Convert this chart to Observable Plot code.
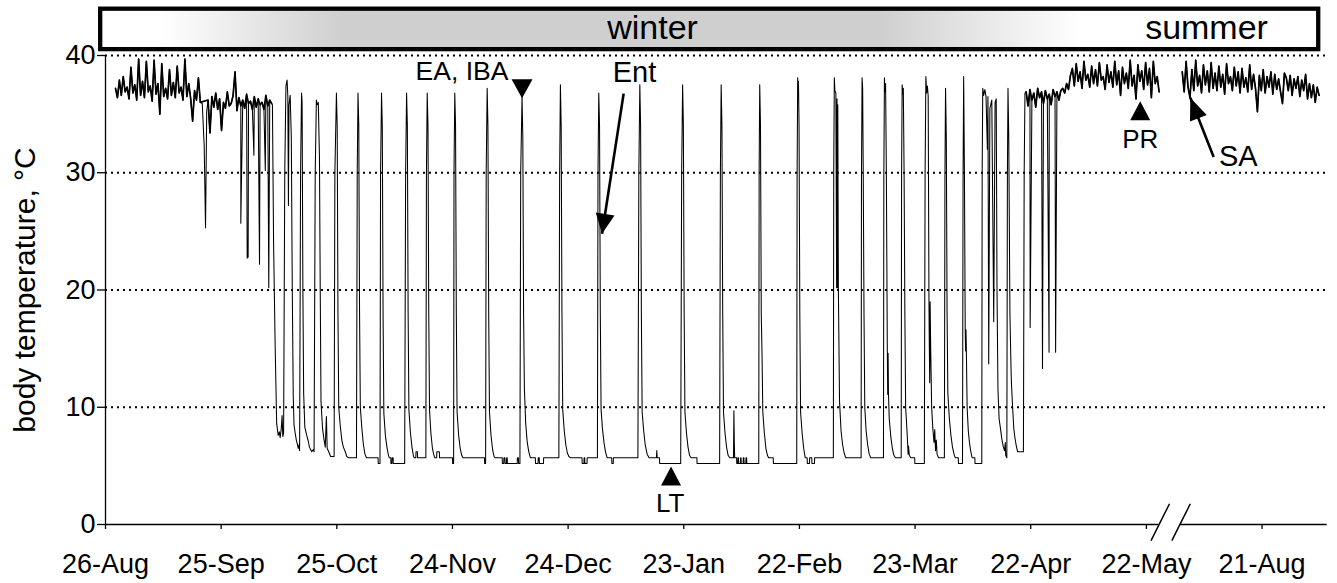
<!DOCTYPE html>
<html><head><meta charset="utf-8">
<script src="https://cdn.jsdelivr.net/npm/d3@7"></script>
<script src="https://cdn.jsdelivr.net/npm/@observablehq/plot@0.6"></script>
<style>html,body{margin:0;padding:0;background:#fff;} #chart svg{display:block;}</style>
</head><body><div id="chart"></div>
<script>
// ---------- DATA (day 0 = 26-Aug; axis break after 22-May, 21-Aug shown at day 300) ----------
const tickDays = [0, 30, 60, 90, 120, 150, 180, 210, 240, 270, 300];
const tickLabels = ["26-Aug","25-Sep","25-Oct","24-Nov","24-Dec","23-Jan","22-Feb","23-Mar","22-Apr","22-May","21-Aug"];
const yTicks = [0, 10, 20, 30, 40];
const gridTemps = [10, 20, 30, 40];

const sampleStep = 0.5; // logger samples shown every half day in euthermic stretches

// late summer / early autumn euthermia (day 2.6 .. 24.6)
const euthA1Start = 2.6;
const euthA1 = [37.2,36.4,37.9,36.6,38.2,36.9,37.3,36.3,39.0,36.8,
                37.5,36.2,39.7,36.6,37.8,36.4,39.5,36.9,37.4,36.1,
                39.6,36.7,37.6,35.0,39.3,36.5,37.2,36.3,38.8,36.6,
                37.7,36.4,39.1,36.8,37.3,36.2,39.7,36.5,37.6,36.3,
                34.4,37.0,36.2,38.1,36.0];
// autumn euthermia (day 26.6 .. 43.1)
const euthA2Start = 26.6;
const euthA2 = [36.2,33.4,36.5,35.6,36.8,35.4,36.3,33.6,36.0,35.5,
                36.9,35.7,35.9,36.6,38.6,35.3,36.4,35.7,36.2,35.5,
                36.7,35.9,36.1,35.4,36.5,35.6,36.3,35.8,36.0,35.4,
                36.6,35.7,36.2,35.9];
// short test drops before hibernation [day, temp]
const testDrops = [[25.1,35.9],[25.6,32.3],[25.95,25.3],[26.25,35.2],[35.1,25.7],[36.75,22.7],[36.9,23.6],[37.0,22.8],
                   [38.5,31.5],[39.95,22.2],[41.45,30.2],[42.35,20.2]];

// torpor bouts [day, temp]
const boutsAutumn = [
 [43.3,35.8],[43.6,24.0],[44.0,15.4],[44.4,8.6],[44.8,7.6],[45.1,7.9],[45.3,7.4],[45.6,8.2],[45.8,9.3],[46.0,7.5],[46.2,7.8],
 [46.5,30.0],[46.8,37.4],[47.1,37.9],[47.3,36.5],[47.45,27.2],[47.6,35.8],[47.9,36.6],
 [48.2,33.0],[48.45,20.0],[48.7,11.0],[48.9,8.5],[49.2,7.8],[49.5,7.2],[49.8,6.8],[50.0,6.5],[50.2,6.8],[50.35,6.3],
 [50.6,30.0],[50.85,36.8],
 [51.0,36.0],[51.2,20.0],[51.4,11.2],[51.7,8.3],[52.2,7.6],[52.6,7.1],[52.9,6.6],[53.2,6.4],[53.5,6.2],[53.9,6.4],[54.1,6.2],
 [54.4,30.0],[54.7,36.2],[54.9,35.8],[55.2,36.0],[55.5,31.3],
 [55.7,20.0],[55.9,10.5],[56.3,8.2],[56.7,7.2],[57.0,6.6],[57.3,9.2],[57.5,6.5],[57.9,6.2],[58.4,5.8],[59.3,5.8],
 [59.5,30.0],[59.9,36.8],
 [60.1,34.0],[60.3,18.0],[60.5,10.0],[60.9,8.4],[61.3,7.2],[61.7,6.6],[62.2,6.2],[62.6,5.8],[63.0,5.7],[65.1,5.7],
 [65.3,30.0],[65.5,36.8],
 [65.7,34.0],[65.9,18.0],[66.1,10.0],[66.5,8.2],[66.9,6.8],[67.3,6.0],[67.7,5.7],[70.7,5.7],[70.75,5.2],[71.2,5.2],
 [71.35,30.0],[71.6,36.8],
 [71.8,34.0],[72.0,18.0],[72.2,9.5],[72.6,7.6],[73.0,6.6],[73.4,5.9],[73.6,5.7],[74.0,5.7],[74.05,5.2],[74.3,5.2],[74.35,5.7],[74.6,5.7],[74.65,5.2],[77.6,5.2],
 [77.85,30.0],[78.1,36.8]
];
const boutsEarlyWinter = [
 [78.3,34.0],[78.5,18.0],[78.7,9.8],[79.1,7.8],[79.5,6.6],[79.9,5.8],[80.1,5.7],[80.5,5.7],[80.55,6.2],[80.9,6.2],[80.95,5.7],[83.1,5.7],
 [83.25,30.0],[83.45,36.8],
 [83.65,34.0],[83.85,18.0],[84.05,9.8],[84.4,7.8],[84.8,6.5],[85.2,5.9],[85.4,5.7],[85.9,5.7],[85.95,6.2],[86.6,6.2],[86.65,5.7],[90.0,5.7],[90.05,5.2],[90.3,5.2],
 [90.4,30.0],[90.6,36.8],
 [90.8,34.0],[91.0,18.0],[91.2,9.6],[91.6,7.6],[92.0,6.5],[92.4,5.9],[92.7,5.7],[98.3,5.7],[98.35,5.2],[98.6,5.2],
 [98.75,30.0],[99.0,37.2],
 [99.2,34.0],[99.4,18.0],[99.6,9.6],[100.0,7.6],[100.4,6.4],[100.8,5.8],[101.0,5.7],[102.9,5.7],[102.95,5.2],[103.3,5.2],[103.35,5.7],[103.6,5.7],[103.65,5.2],[104.0,5.2],[104.05,5.7],[104.2,5.7],[104.25,5.2],[106.8,5.2],[106.85,5.7],[107.1,5.7],[107.15,5.2],[107.5,5.2],
 [107.7,30.0],[108.05,36.5],
 [108.25,33.0],[108.45,18.0],[108.65,11.7],[109.0,8.6],[109.4,7.0],[109.8,6.2],[110.2,5.7],[111.5,5.7],[111.55,5.2],[112.2,5.2],[112.25,5.7],[112.5,5.7],[112.55,5.2],[113.6,5.2],[113.65,5.7],[117.6,5.7],
 [117.8,30.0],[118.0,37.5],
 [118.2,34.0],[118.4,18.0],[118.6,9.8],[119.0,8.0],[119.4,6.8],[119.8,6.1],[120.2,5.8],[120.6,5.7],[123.6,5.7],[123.65,5.2],[124.1,5.2],[124.15,5.7],[124.3,5.7],[124.35,5.2],[124.9,5.2],[124.95,5.7],[127.6,5.7],
 [127.75,30.0],[127.95,36.8],
 [128.15,34.0],[128.35,18.0],[128.55,9.8],[128.9,8.2],[129.3,7.0],[129.7,6.2],[130.1,5.7],[131.3,5.7],[131.35,5.2],[131.7,5.2],[131.75,5.7],[138.1,5.7],
 [138.35,30.0],[138.6,37.5]
];
const boutsMidWinter = [
 [138.8,34.0],[139.0,18.0],[139.2,9.6],[139.6,8.0],[140.0,6.8],[140.5,6.0],[141.0,5.7],[142.9,5.7],[143.0,6.3],[143.1,5.7],[143.7,5.7],[143.75,5.2],[149.2,5.2],
 [149.45,30.0],[149.7,37.5],
 [149.9,34.0],[150.1,18.0],[150.3,9.6],[150.7,7.8],[151.1,6.6],[151.5,5.9],[151.9,5.7],[153.4,5.7],[153.45,5.2],[159.3,5.2],
 [159.5,30.0],[159.7,37.5],
 [159.9,34.0],[160.1,18.0],[160.3,9.6],[160.7,7.8],[161.1,6.6],[161.5,5.9],[161.9,5.7],[162.9,5.7],[163.0,9.7],[163.1,7.2],[163.2,5.7],[163.7,5.7],[163.75,5.2],[164.0,5.2],[164.05,5.7],[164.2,5.7],[164.25,5.2],[164.7,5.2],[164.75,5.7],[164.85,5.7],[164.9,5.2],[165.4,5.2],[165.45,5.7],[165.6,5.7],[165.65,5.2],[166.1,5.2],[166.15,5.7],[166.3,5.7],[166.35,5.2],[169.45,5.2],
 [169.55,30.0],[169.7,37.5],
 [169.9,34.0],[170.1,18.0],[170.3,14.5],[170.5,9.6],[170.9,7.8],[171.3,6.5],[171.7,5.9],[172.0,5.7],[173.2,5.7],[173.25,5.2],[179.3,5.2],
 [179.4,30.0],[179.55,38.1],[179.65,36.9],[179.75,37.8],
 [179.9,34.0],[180.1,18.0],[180.3,9.6],[180.7,7.8],[181.1,6.5],[181.5,5.7],[182.0,5.7],[182.05,5.2],[182.6,5.2],[182.65,5.7],[183.2,5.7],[183.25,5.2],[183.9,5.2],[183.95,5.7],[188.8,5.7],
 [188.9,30.0],[189.05,38.1],
 [189.2,37.0],[189.45,36.8],[189.65,20.2],[189.75,36.3],[189.85,20.2],[189.95,35.8],[190.1,20.2],[190.4,10.5],[190.8,8.0],[191.2,6.8],[191.6,6.1],[192.0,5.7],[196.0,5.7],
 [196.1,30.0],[196.25,38.1],[196.4,37.2],
 [196.55,30.0],[196.75,18.0],[196.95,10.0],[197.3,8.0],[197.7,6.8],[198.1,6.0],[198.5,5.7],[201.8,5.7],
 [201.9,30.0],[202.05,38.1],[202.2,36.9],[202.35,37.6]
];
const boutsLateWinter = [
 [202.55,30.0],[202.8,14.8],[202.9,11.1],[203.0,14.6],[203.1,11.1],[203.3,9.0],[203.7,7.5],[204.1,6.5],[204.5,5.9],[204.9,5.7],[206.4,5.7],
 [206.5,30.0],[206.65,37.5],[206.8,36.7],[206.95,37.2],
 [207.15,30.0],[207.35,18.0],[207.55,10.0],[207.9,8.0],[208.1,6.7],[208.2,6.0],[208.3,6.7],[208.5,5.9],[208.9,5.7],[209.9,5.7],[209.95,5.2],[212.4,5.2],
 [212.6,30.0],[212.8,38.2],[213.0,36.8],[213.2,37.4],[213.4,36.5],
 [213.6,19.1],[213.7,15.0],[213.8,12.1],[213.9,19.0],[214.05,15.0],[214.3,10.0],[214.6,8.2],[214.9,7.0],[215.1,8.1],[215.3,6.3],[215.5,7.2],[215.7,6.0],[216.1,5.7],[217.6,5.7],
 [217.75,30.0],[217.9,37.2],
 [218.1,33.0],[218.3,18.0],[218.5,11.2],[218.9,9.0],[219.3,7.6],[219.7,6.6],[220.1,6.0],[220.4,5.7],[221.2,5.7],[221.25,5.2],[222.3,5.2],
 [222.45,30.0],[222.6,38.2],
 [222.8,30.0],[223.0,16.8],[223.1,14.8],[223.2,16.6],[223.3,14.9],[223.5,10.0],[223.8,8.0],[224.1,7.0],[224.4,6.3],[224.8,5.7],[225.5,5.7],[225.55,5.2],[227.3,5.2],
 [227.4,30.0],[227.55,37.2],[227.8,36.6],[228.1,37.1],[228.4,36.5],
 [228.75,32.0],[228.9,36.5],[229.1,13.7],[229.4,35.5],[229.9,36.2],[230.4,17.3],[230.75,36.0],[231.05,36.3],
 [231.25,20.0],[231.5,11.5],[231.8,9.0],[232.1,8.3],[232.5,7.3],[232.9,6.6],[233.2,6.3],[233.4,7.0],[233.5,5.9],[233.8,5.7],
 [233.95,30.0],[234.1,37.2],
 [234.3,33.0],[234.6,18.0],[234.9,13.1],[235.0,12.0],[235.3,10.0],[235.6,8.2],[235.9,7.4],[236.2,6.8],[236.6,6.2],[238.1,6.2],
 [238.3,30.0],[238.5,36.8]
];
// spring euthermia (day 238.8 .. 273.3)
const springStart = 238.8;
const springVals = [36.9,35.7,37.1,36.2,36.8,35.6,37.2,36.4,36.9,35.9,
                    37.0,36.3,36.7,35.8,37.1,36.5,36.9,36.2,37.0,
                    37.2,36.8,37.6,37.1,38.3,
                    38.9,37.4,39.3,37.8,38.6,37.2,39.5,37.9,38.4,37.3,
                    39.1,37.6,38.8,37.4,39.4,37.9,38.2,37.1,39.2,37.7,
                    38.6,37.3,39.5,37.5,38.7,36.6,39.0,37.6,38.5,37.2,
                    39.6,37.4,38.3,36.3,39.2,37.8,38.7,37.1,39.4,37.5,
                    38.9,36.4,39.5,37.6,38.2,36.9];
const springDrops = [[239.85,16.8],[243.05,13.3],[244.75,14.7],[246.45,14.7]];
// summer euthermia after the axis break (day 279.3 .. 314.8)
const summerStart = 279.3;
const summerVals = [38.6,36.9,39.5,37.3,36.4,38.8,37.0,39.6,37.4,38.3,
                    36.8,39.2,37.5,38.7,36.9,39.4,37.2,38.5,37.0,39.1,
                    37.3,38.4,36.7,39.3,37.6,38.2,37.0,39.0,37.4,38.6,
                    36.8,38.9,37.3,38.1,36.9,39.2,37.1,38.4,37.2,35.2,
                    38.3,37.0,38.8,36.8,38.2,37.3,38.6,36.7,38.4,37.1,
                    38.0,36.9,35.9,38.5,38.1,37.0,38.3,36.6,38.0,37.2,
                    38.2,36.5,37.9,37.0,38.4,36.3,37.6,36.4,37.5,36.0,
                    37.3,36.6];

// annotations
const seasonLabels = [{label: "winter", day: 141.9, temp: 41.4}, {label: "summer", day: 285.6, temp: 41.4}];
const seasonBar = [{d1: -1.25, d2: 314.7, t1: 40.5, t2: 43.95}];
const noteEA = {label: "EA, IBA", day: 104.5, temp: 37.9};
const noteEnt = {label: "Ent", day: 137.2, temp: 37.75};
const noteLT = {label: "LT", day: 146.5, temp: 1.05};
const notePR = {label: "PR", day: 268.4, temp: 32.15};
const noteSA = {label: "SA", day: 293.85, temp: 30.55};
const markerEA = {day: 108.05, temp: 36.35};
const markerLT = {day: 146.7, temp: 4.95};
const markerPR = {day: 268.4, temp: 36.1};
const arrowEnt = {day1: 134.4, temp1: 36.75, day2: 128.8, temp2: 24.8};
const arrowSA = {day1: 287.45, temp1: 31.35, day2: 281.4, temp2: 36.4};
const axisSegments = [{d1: 0, d2: 273.2}, {d1: 278.8, d2: 316.9}];
const breakSlashes = [{d1: 271.2, t1: -1.37, d2: 276.0, t2: 1.77}, {d1: 276.6, t1: -1.37, d2: 281.4, t2: 1.77}];

// ---------- BUILD ----------
const uniform = (start, step, vals, seg) => vals.map((t, i) => ({day: +(start + i * step).toFixed(2), temp: t, seg}));
const pairs = (arr, seg) => arr.map(([day, temp]) => ({day, temp, seg}));
const trace = [
  ...uniform(euthA1Start, sampleStep, euthA1, 1),
  ...uniform(euthA2Start, sampleStep, euthA2, 1),
  ...pairs(testDrops, 1),
  ...pairs(boutsAutumn, 1),
  ...pairs(boutsEarlyWinter, 1),
  ...pairs(boutsMidWinter, 1),
  ...pairs(boutsLateWinter, 1),
  ...uniform(springStart, sampleStep, springVals, 1),
  ...pairs(springDrops, 1)
].sort((a, b) => a.day - b.day).concat(uniform(summerStart, sampleStep, summerVals, 2));
// euthermic stretches (drawn a bit heavier, as in the dense logger band of the original)
const euthermic = [
  ...uniform(euthA1Start, sampleStep, euthA1, "a"),
  ...uniform(euthA2Start, sampleStep, euthA2, "a"),
  ...uniform(springStart, sampleStep, springVals, "b"),
  ...uniform(summerStart, sampleStep, summerVals, "c")
];

function head(angle, len, half) {
  const a = angle * Math.PI / 180, ux = Math.sin(a), uy = -Math.cos(a);
  const bx = -len * ux, by = -len * uy, px = -uy, py = ux;
  return {draw(ctx) { ctx.moveTo(0, 0); ctx.lineTo(bx + half * px, by + half * py); ctx.lineTo(bx - half * px, by - half * py); ctx.closePath(); }};
}
const FONT = "'Liberation Sans', Arial, Helvetica, sans-serif";

const chart = Plot.plot({
  width: 1337, height: 583,
  marginLeft: 105, marginRight: 10.3, marginTop: 55, marginBottom: 59,
  x: {domain: [0, 316.9]},
  y: {domain: [0, 40]},
  style: {fontFamily: FONT, background: "#fff", color: "#000"},
  marks: [
    Plot.ruleY(gridTemps, {stroke: "#000", strokeWidth: 1.8, strokeDasharray: "2,4"}),
    Plot.line(euthermic, {x: "day", y: "temp", z: "seg", stroke: "#000", strokeWidth: 1.7}),
    Plot.line(trace, {x: "day", y: "temp", z: "seg", stroke: "#000", strokeWidth: 1.05}),
    Plot.ruleX([0], {stroke: "#000", strokeWidth: 1.3}),
    Plot.ruleY(axisSegments, {x1: "d1", x2: "d2", y: 0, stroke: "#000", strokeWidth: 1.3}),
    Plot.link(breakSlashes, {x1: "d1", y1: "t1", x2: "d2", y2: "t2", stroke: "#000", strokeWidth: 1.5}),
    Plot.axisX({ticks: tickDays, tickFormat: d => tickLabels[tickDays.indexOf(d)], tickSize: 5, tickPadding: 24, fontSize: 27, strokeWidth: 1.3, label: null}),
    Plot.axisY({ticks: yTicks, tickSize: 8, tickPadding: 2, fontSize: 27, strokeWidth: 1.3, label: null}),
    Plot.text(["body temperature, °C"], {frameAnchor: "left", rotate: -90, dx: -71, fontSize: 30, lineAnchor: "bottom", textAnchor: "middle", fill: "#000"}),
    Plot.rect(seasonBar, {x1: "d1", x2: "d2", y1: "t1", y2: "t2", fill: "url(#seasonGrad)", stroke: "#000", strokeWidth: 4.3}),
    Plot.text(seasonLabels, {x: "day", y: "temp", text: "label", fontSize: 34, lineAnchor: "bottom", fill: "#000"}),
    Plot.text([noteEA], {x: "day", y: "temp", text: "label", fontSize: 26.5, textAnchor: "end", lineAnchor: "bottom", fill: "#000"}),
    Plot.text([noteEnt], {x: "day", y: "temp", text: "label", fontSize: 29, lineAnchor: "bottom", fill: "#000"}),
    Plot.text([noteLT, notePR], {x: "day", y: "temp", text: "label", fontSize: 26, lineAnchor: "bottom", fill: "#000"}),
    Plot.text([noteSA], {x: "day", y: "temp", text: "label", fontSize: 29, lineAnchor: "bottom", fill: "#000"}),
    Plot.dot([markerEA], {x: "day", y: "temp", symbol: head(180, 19, 10.5), fill: "#000", stroke: "none"}),
    Plot.dot([markerLT, markerPR], {x: "day", y: "temp", symbol: head(0, 19, 10), fill: "#000", stroke: "none"}),
    Plot.link([arrowEnt, arrowSA], {x1: "day1", y1: "temp1", x2: "day2", y2: "temp2", stroke: "#000", strokeWidth: 2.6}),
    Plot.dot([arrowEnt], {x: "day2", y: "temp2", symbol: head(188.8, 20, 9.5), fill: "#000", stroke: "none"}),
    Plot.dot([arrowSA], {x: "day2", y: "temp2", symbol: head(338.6, 22, 9), fill: "#000", stroke: "none"})
  ]
});

const seasonStops = [[0, "#ffffff"], [0.05, "#ffffff"], [0.2, "#cfcfcf"], [0.64, "#cfcfcf"], [0.805, "#ffffff"], [1, "#ffffff"]];
const ns = "http://www.w3.org/2000/svg";
const defs = document.createElementNS(ns, "defs");
const grad = document.createElementNS(ns, "linearGradient");
grad.setAttribute("id", "seasonGrad");
grad.setAttribute("x1", "0"); grad.setAttribute("x2", "1"); grad.setAttribute("y1", "0"); grad.setAttribute("y2", "0");
for (const [o, c] of seasonStops) {
  const s = document.createElementNS(ns, "stop");
  s.setAttribute("offset", o); s.setAttribute("stop-color", c);
  grad.appendChild(s);
}
defs.appendChild(grad);
chart.insertBefore(defs, chart.firstChild);
document.getElementById("chart").appendChild(chart);
</script></body></html>
